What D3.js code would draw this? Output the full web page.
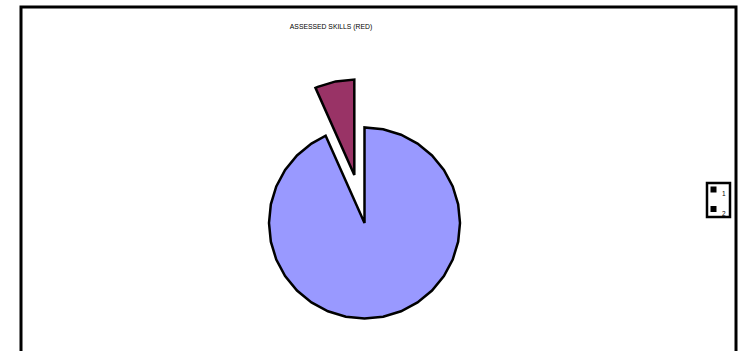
<!DOCTYPE html>
<html>
<head>
<meta charset="utf-8">
<script src="https://cdn.jsdelivr.net/npm/d3@7"></script>
<style>
  body { margin: 0; background: #fff; }
  svg { display: block; }
</style>
</head>
<body>
<svg id="chart" width="740" height="351"></svg>
<script>
// chart data
const title = "ASSESSED SKILLS (RED)";
const categories = ["1", "2"];
const values = [14, 1];
const colors = ["#9999FF", "#993366"];
const exploded = [false, true];

const svg = d3.select("#chart");

// outer frame (bottom edge runs off the picture)
svg.append("rect")
    .attr("x", 21)
    .attr("y", 7)
    .attr("width", 715)
    .attr("height", 400)
    .attr("fill", "#fff")
    .attr("stroke", "#000")
    .attr("stroke-width", 3);

svg.append("text")
    .attr("x", 331)
    .attr("y", 29)
    .attr("text-anchor", "middle")
    .attr("font-family", "Liberation Sans, Arial, sans-serif")
    .attr("font-size", 6.8)
    .attr("fill", "#000")
    .text(title);

const cx = 364.5, cy = 223, r = 95.5, explode = 49;

const pie = d3.pie().sort(null).value(d => d);
const arcs = pie(values);

// excel draws the pie as a polygon, so build the outline from straight pieces
function slicePath (a) {
    const step = Math.PI * 2 / 32;
    const pts = [[0, 0]];
    let ang = a.startAngle;
    while (ang < a.endAngle) {
        pts.push([Math.sin(ang) * r, -Math.cos(ang) * r]);
        ang = (Math.floor(ang / step + 1e-6) + 1) * step;
    }
    pts.push([Math.sin(a.endAngle) * r, -Math.cos(a.endAngle) * r]);
    return d3.line()(pts) + "Z";
}

const slices = svg.append("g")
    .attr("transform", "translate(" + cx + "," + cy + ")");

slices.selectAll("path")
    .data(arcs)
    .enter()
    .append("path")
    .attr("d", d => slicePath(d))
    .attr("transform", (d, i) => {
        if (!exploded[i]) return null;
        const mid = (d.startAngle + d.endAngle) / 2;
        return "translate(" + (Math.sin(mid) * explode) + "," + (-Math.cos(mid) * explode) + ")";
    })
    .attr("fill", (d, i) => colors[i])
    .attr("stroke", "#000")
    .attr("stroke-width", 2.5)
    .attr("stroke-linejoin", "miter");

// legend
const legend = svg.append("g");
legend.append("rect")
    .attr("x", 707)
    .attr("y", 183)
    .attr("width", 23)
    .attr("height", 34)
    .attr("fill", "#fff")
    .attr("stroke", "#000")
    .attr("stroke-width", 2.5);

const items = legend.selectAll("g.item")
    .data(categories)
    .enter()
    .append("g")
    .attr("class", "item")
    .attr("transform", (d, i) => "translate(0," + (i * 19.5) + ")");

// swatches are so small that the border covers the colour
items.append("rect")
    .attr("x", 712)
    .attr("y", 188)
    .attr("width", 3)
    .attr("height", 3)
    .attr("fill", (d, i) => colors[i])
    .attr("stroke", "#000")
    .attr("stroke-width", 3);

items.append("text")
    .attr("x", 722)
    .attr("y", 196)
    .attr("font-family", "Liberation Sans, Arial, sans-serif")
    .attr("font-size", 6.5)
    .attr("fill", "#000")
    .text(d => d);
</script>
</body>
</html>
